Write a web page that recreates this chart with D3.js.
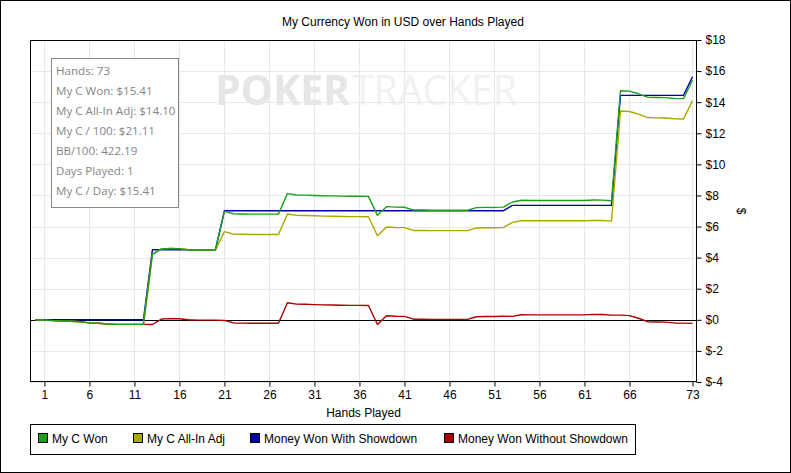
<!DOCTYPE html>
<html><head><meta charset="utf-8">
<script src="https://cdn.jsdelivr.net/npm/d3@7"></script>
<style>
body{margin:0;background:#fff}
svg{display:block}
</style>
</head><body>
<svg id="c" width="791" height="473" font-family="'Liberation Sans',Arial,sans-serif"></svg>
<script>
// ---- data (hand 0 .. 73) ----
const myCWon = [0,-0.02,-0.05,-0.08,-0.09,-0.12,-0.2,-0.22,-0.27,-0.29,-0.29,-0.29,-0.29,
 4.21,4.56,4.59,4.58,4.51,4.49,4.49,4.49,
 6.98,6.82,6.81,6.8,6.8,6.8,6.8,
 8.12,8.03,8.02,8.0,7.98,7.97,7.96,7.95,7.95,7.94,
 6.72,7.28,7.25,7.24,7.06,7.06,7.05,7.05,7.05,7.05,7.05,
 7.22,7.23,7.23,7.25,7.58,7.69,7.68,7.68,7.68,7.68,7.68,7.68,7.68,7.71,7.70,7.66,
 14.74,14.71,14.54,14.32,14.3,14.29,14.24,14.23,15.41];
const myCAllIn = [0,-0.02,-0.05,-0.08,-0.09,-0.12,-0.2,-0.22,-0.27,-0.29,-0.29,-0.29,-0.29,
 4.21,4.56,4.59,4.58,4.51,4.49,4.49,4.49,
 5.67,5.51,5.5,5.49,5.49,5.49,5.49,
 6.81,6.72,6.71,6.69,6.67,6.66,6.65,6.64,6.64,6.63,
 5.41,5.97,5.94,5.93,5.75,5.75,5.74,5.74,5.74,5.74,5.74,
 5.91,5.92,5.92,5.94,6.27,6.38,6.37,6.37,6.37,6.37,6.37,6.37,6.37,6.4,6.39,6.35,
 13.43,13.4,13.23,13.01,12.99,12.98,12.93,12.92,14.1];
const wonShowdown = [0,0,0,0,0,0,0,0,0,0,0,0,0,
 4.51,4.51,4.51,4.51,4.51,4.51,4.51,4.51,
 7.02,7.02,7.02,7.02,7.02,7.02,7.02,7.02,7.02,7.02,7.02,7.02,7.02,7.02,7.02,7.02,
 7.02,7.02,7.02,7.02,7.02,7.02,7.02,7.02,7.02,7.02,7.02,7.02,7.02,7.02,7.02,7.02,
 7.36,7.36,7.36,7.36,7.36,7.36,7.36,7.36,7.36,7.36,7.36,7.36,
 14.44,14.44,14.44,14.44,14.44,14.44,14.44,14.44,15.64];
const wonNoShowdown = [0,-0.02,-0.05,-0.08,-0.09,-0.12,-0.2,-0.22,-0.27,-0.29,-0.29,-0.29,-0.29,
 -0.3,0.05,0.08,0.07,0.0,-0.02,-0.02,-0.02,
 -0.04,-0.2,-0.21,-0.22,-0.22,-0.22,-0.22,
 1.1,1.01,1.0,0.98,0.96,0.95,0.94,0.93,0.93,0.92,
 -0.3,0.26,0.23,0.22,0.04,0.04,0.03,0.03,0.03,0.03,0.03,
 0.2,0.21,0.21,0.23,0.22,0.33,0.32,0.32,0.32,0.32,0.32,0.32,0.32,0.35,0.34,0.30,
 0.3,0.27,0.1,-0.12,-0.14,-0.15,-0.2,-0.21,-0.23];

const seriesNames = ["My C Won","My C All-In Adj","Money Won With Showdown","Money Won Without Showdown"];
const seriesColors = ["#1c9f1c","#a8a800","#0000aa","#aa0000"];
const xTicks = [1,6,11,16,21,26,31,36,41,46,51,56,61,66,73];
const yTicks = [-4,-2,0,2,4,6,8,10,12,14,16,18];
const infoLines = ["Hands: 73","My C Won: $15.41","My C All-In Adj: $14.10","My C / 100: $21.11","BB/100: 422.19","Days Played: 1","My C / Day: $15.41"];

// ---- layout ----
const W=791,H=473;
const P={l:30,r:697,t:40,b:382};
const svg=d3.select("#c");
svg.append("rect").attr("x",0.5).attr("y",0.5).attr("width",W-1).attr("height",H-1)
  .attr("fill","#fff").attr("stroke","#000");

const x=d3.scaleLinear().domain([-0.6,73.5]).range([P.l,P.r]);
const y=d3.scaleLinear().domain([-4,18]).range([P.b,P.t]);

// title
svg.append("text").attr("x",282).attr("y",26).attr("font-size",12).attr("fill","#000")
  .text("My Currency Won in USD over Hands Played");

// plot background
svg.append("rect").attr("x",P.l).attr("y",P.t).attr("width",P.r-P.l).attr("height",P.b-P.t).attr("fill","#fff");

// watermark
const wm=svg.append("g").attr("font-family","'Open Sans',sans-serif").attr("font-size",42);
wm.append("text").attr("x",215).attr("y",105).attr("font-weight","bold").attr("fill","#e6e6e6")
  .attr("textLength",135).attr("lengthAdjust","spacingAndGlyphs").text("POKER");
wm.append("text").attr("x",352).attr("y",105).attr("fill","#f1f1f1")
  .attr("textLength",165).attr("lengthAdjust","spacingAndGlyphs").text("TRACKER");

// gridlines
svg.append("g").selectAll("line").data(xTicks).join("line")
  .attr("x1",d=>Math.round(x(d))+0.5).attr("x2",d=>Math.round(x(d))+0.5)
  .attr("y1",P.t).attr("y2",P.b).attr("stroke","#e8e8e8");
svg.append("g").selectAll("line").data(yTicks).join("line")
  .attr("y1",d=>Math.round(y(d))+0.5).attr("y2",d=>Math.round(y(d))+0.5)
  .attr("x1",P.l).attr("x2",P.r).attr("stroke","#e8e8e8");

// zero line
svg.append("line").attr("x1",P.l).attr("x2",P.r)
  .attr("y1",Math.round(y(0))+0.5).attr("y2",Math.round(y(0))+0.5).attr("stroke","#000");

// info box
svg.append("rect").attr("x",51.5).attr("y",58.5).attr("width",127).attr("height",149)
  .attr("fill","#fff").attr("stroke","#888");
svg.append("g").attr("font-family","'Open Sans','Noto Sans',sans-serif").attr("font-size",11.6)
  .selectAll("text").data(infoLines).join("text")
  .attr("x",56).attr("y",(d,i)=>75+i*20).attr("fill","#858585").text(d=>d);

// lines
const allSeries=[myCWon,myCAllIn,wonShowdown,wonNoShowdown];
const line=d3.line().x((d,i)=>x(i)).y(d=>y(d));
const order=[3,2,1,0];
order.forEach(k=>{
  svg.append("path").datum(allSeries[k]).attr("d",line).attr("fill","none")
    .attr("stroke",seriesColors[k]).attr("stroke-width",1.4).attr("stroke-linejoin","round");
});

// plot border
svg.append("rect").attr("x",P.l+0.5).attr("y",P.t+0.5).attr("width",P.r-P.l-1).attr("height",P.b-P.t-1)
  .attr("fill","none").attr("stroke","#000");

// axes
const ya=svg.append("g").attr("transform",`translate(${P.r-0.5},0)`)
  .call(d3.axisRight(y).tickValues(yTicks).tickSize(5).tickPadding(4).tickFormat(d=>"$"+d));
const xa=svg.append("g").attr("transform",`translate(0,${P.b-0.5})`)
  .call(d3.axisBottom(x).tickValues(xTicks).tickSize(5).tickPadding(4).tickFormat(d=>d));
[ya,xa].forEach(g=>{
  g.attr("font-family","'Liberation Sans',Arial,sans-serif").attr("font-size",12);
  g.select(".domain").remove();
  g.selectAll("text").attr("fill","#000");
  g.selectAll("line").attr("stroke","#000");
});

// axis titles
svg.append("text").attr("x",(P.l+P.r)/2).attr("y",417).attr("text-anchor","middle")
  .attr("font-size",12).text("Hands Played");
svg.append("text").attr("transform","translate(737,211) rotate(90)").attr("text-anchor","middle")
  .attr("font-size",12).text("$");

// legend
svg.append("rect").attr("x",30.5).attr("y",424.5).attr("width",605).attr("height",30)
  .attr("fill","#fff").attr("stroke","#000");
const legX=[38,133,250,444];
const lg=svg.append("g").attr("font-size",12).selectAll("g").data(seriesNames).join("g")
  .attr("transform",(d,i)=>`translate(${legX[i]},0)`);
lg.append("rect").attr("x",0.5).attr("y",433.5).attr("width",9).attr("height",9)
  .attr("fill",(d,i)=>seriesColors[i]).attr("stroke","#000");
lg.append("text").attr("x",14).attr("y",443).text(d=>d);
</script>
</body></html>
